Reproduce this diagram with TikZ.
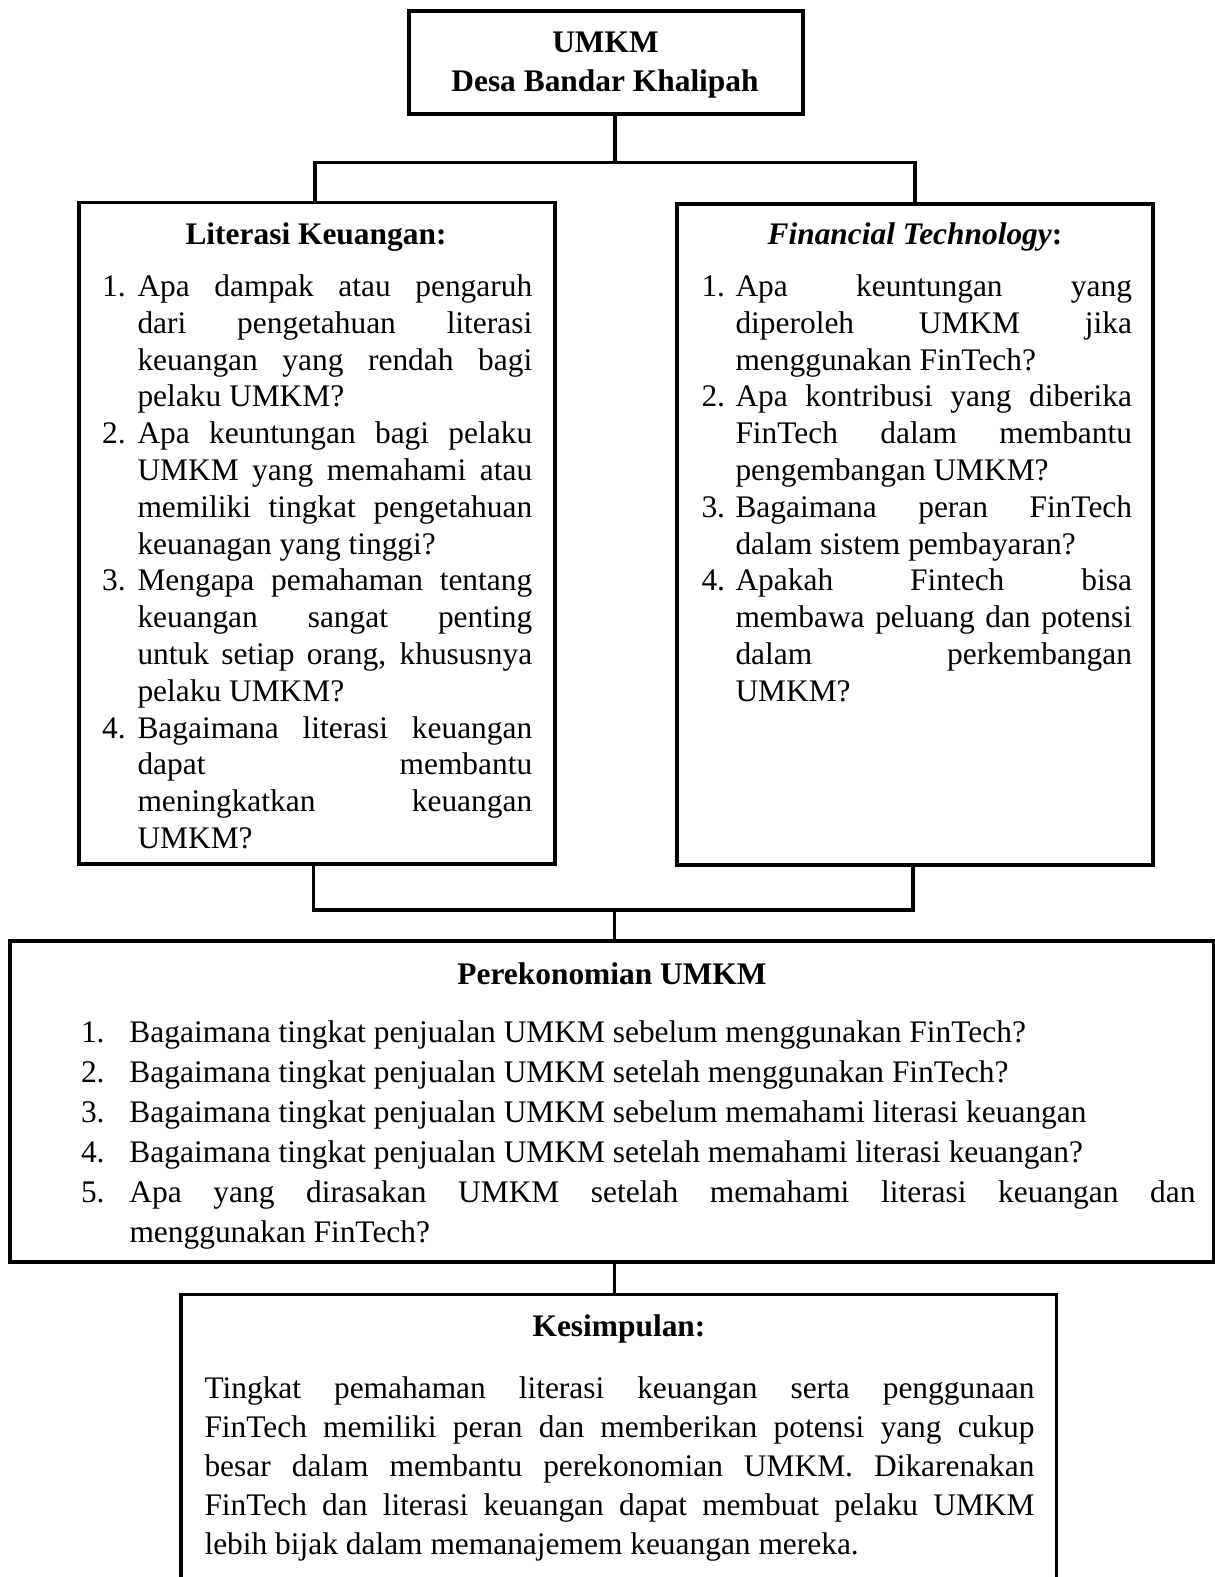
\documentclass[tikz,border=0pt]{standalone}
\usepackage{fontspec}
\setmainfont{Liberation Serif}
\usetikzlibrary{positioning,fit,calc}
\newlength{\pxu}\setlength{\pxu}{0.382pt}
\newlength{\qind}
\newcommand{\qitem}[1]{\ifhmode\par\fi\noindent\hangindent=\qind\hangafter=1\makebox[\qind][l]{#1}\ignorespaces}
\tolerance=10000 \hbadness=10000 \hyphenpenalty=10000
\tikzset{
  frame/.style={draw, line width=1.5pt, inner sep=0pt},
  link/.style={draw, line width=1.3pt},
  head/.style={inner sep=0pt, anchor=base, font=\fontsize{12}{14}\selectfont\bfseries},
  qtext/.style={inner sep=0pt, anchor=base west, font=\fontsize{12}{14}\selectfont}
}
\begin{document}
\begin{tikzpicture}[x=0.382pt, y=-0.382pt]
  \useasboundingbox (0,0) rectangle (1215,1577);
  \clip (0,0) rectangle (1215,1577);
  % Boxes
  \node[frame, fit={(408.7,11.3) (803,113.8)}] (umkm) {};
  \node[frame, fit={(79.3,202.5) (554.7,863.7)}] (lit) {};
  \node[frame, fit={(677,203.8) (1152.7,865.3)}] (fin) {};
  \node[frame, fit={(10.3,941.3) (1214,1262)}] (eko) {};
  \node[frame, fit={(181.3,1294.5) (1056.5,1600)}] (sum) {};
  % Titles
  \node[head] (umkmT) at (605.5,52.3) {UMKM};
  \node[head] (desaT) at (605,91.7) {Desa Bandar Khalipah};
  \node[head] (litT) at (316,244) {Literasi Keuangan:};
  \node[head] (finT) at (915,244) {\textit{Financial Technology}:};
  \node[head] (ekoT) at (612,984) {Perekonomian UMKM};
  \node[head] (sumT) at (619,1336) {Kesimpulan:};
  % Questions
  \node[qtext] (litQ) at (101.7,296.5) {\begin{minipage}[t]{430\pxu}%
      \setlength{\qind}{35.3\pxu}\fontsize{12}{14.06}\selectfont
      \qitem{1.}Apa dampak atau pengaruh\linebreak dari pengetahuan literasi\linebreak keuangan yang rendah bagi\linebreak pelaku UMKM?
      \qitem{2.}Apa keuntungan bagi pelaku\linebreak UMKM yang memahami atau\linebreak memiliki tingkat pengetahuan\linebreak keuanagan yang tinggi?
      \qitem{3.}Mengapa pemahaman tentang\linebreak keuangan sangat penting\linebreak untuk setiap orang, khususnya\linebreak pelaku UMKM?
      \qitem{4.}Bagaimana literasi keuangan\linebreak dapat membantu\linebreak meningkatkan keuangan\linebreak UMKM?
    \end{minipage}};
  \node[qtext] (finQ) at (701,296.5) {\begin{minipage}[t]{430.5\pxu}%
      \setlength{\qind}{34\pxu}\fontsize{12}{14.06}\selectfont
      \qitem{1.}Apa keuntungan yang\linebreak diperoleh UMKM jika\linebreak menggunakan FinTech?
      \qitem{2.}Apa kontribusi yang diberika\linebreak FinTech dalam membantu\linebreak pengembangan UMKM?
      \qitem{3.}Bagaimana peran FinTech\linebreak dalam sistem pembayaran?
      \qitem{4.}Apakah Fintech bisa\linebreak membawa peluang dan potensi\linebreak dalam perkembangan\linebreak UMKM?
    \end{minipage}};
  \node[qtext] (ekoQ) at (80.5,1042.5) {\begin{minipage}[t]{1114.5\pxu}%
      \setlength{\qind}{48.5\pxu}\fontsize{12}{15.3}\selectfont
      \qitem{1.}Bagaimana tingkat penjualan UMKM sebelum menggunakan FinTech?
      \qitem{2.}Bagaimana tingkat penjualan UMKM setelah menggunakan FinTech?
      \qitem{3.}Bagaimana tingkat penjualan UMKM sebelum memahami literasi keuangan
      \qitem{4.}Bagaimana tingkat penjualan UMKM setelah memahami literasi keuangan?
      \qitem{5.}Apa yang dirasakan UMKM setelah memahami literasi keuangan dan\linebreak menggunakan FinTech?
    \end{minipage}};
  \node[qtext] (sumQ) at (204,1398) {\begin{minipage}[t]{830\pxu}%
      \fontsize{12}{14.9}\selectfont\noindent
      Tingkat pemahaman literasi keuangan serta penggunaan\linebreak FinTech memiliki peran dan memberikan potensi yang cukup\linebreak besar dalam membantu perekonomian UMKM. Dikarenakan\linebreak FinTech dan literasi keuangan dapat membuat pelaku UMKM\linebreak lebih bijak dalam memanajemem keuangan mereka.
    \end{minipage}};
  % Connectors
  \coordinate (topJ) at (615,162.7);
  \coordinate (topL) at (315,162.7);
  \coordinate (topR) at (915,162.7);
  \draw[link] (umkm.south -| topJ) -- (topJ);
  \draw[link] (lit.north -| topL) -- (topL) -- (topR) -- (fin.north -| topR);
  \coordinate (botL) at (313.7,910);
  \coordinate (botR) at (913,910);
  \coordinate (botJ) at (614.5,910);
  \draw[link] (lit.south -| botL) -- (botL) -- (botR) -- (fin.south -| botR);
  \draw[link] (botJ) -- (eko.north -| botJ);
  \draw[link] (eko.south -| botJ) -- (sum.north -| botJ);
\end{tikzpicture}
\end{document}
